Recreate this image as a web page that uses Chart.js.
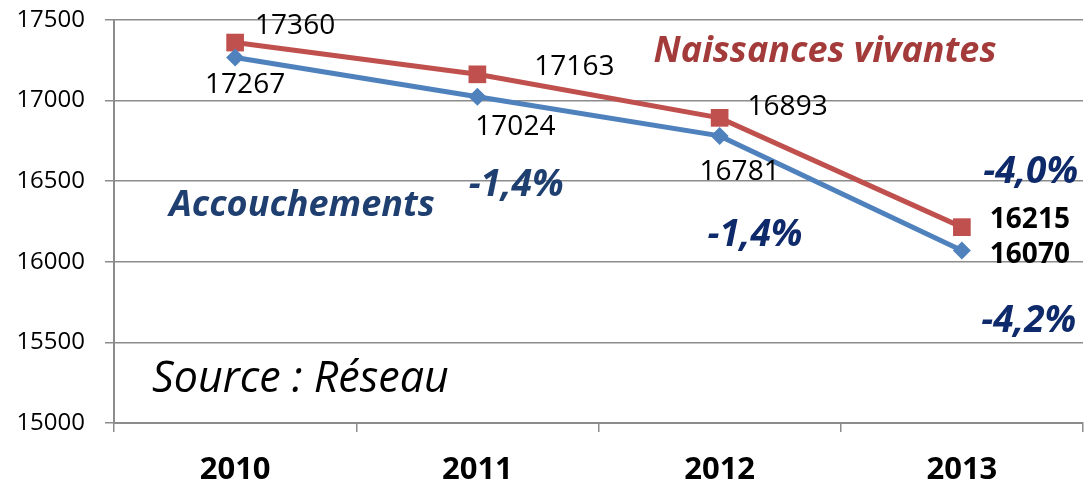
<!DOCTYPE html>
<html>
<head>
<meta charset="utf-8">
<script src="https://cdn.jsdelivr.net/npm/chart.js@4/dist/chart.umd.min.js"></script>
<style>
    html, body { margin: 0; padding: 0; background: #fff; }
    #wrap { width: 1084px; height: 489px; }
</style>
</head>
<body>
<div id="wrap"><canvas id="chart" width="1084" height="489"></canvas></div>
<script>
// Data
const years = ['2010', '2011', '2012', '2013'];
const accouchements = [17267, 17024, 16781, 16070];
const naissances = [17360, 17163, 16893, 16215];
const yTicks = [15000, 15500, 16000, 16500, 17000, 17500];

// Label offsets (px) from each point, per series
const blueLabelOffsets = [[10, 27], [38, 30], [20, 36], [68, 5]];
const redLabelOffsets = [[60, -17], [97, -7], [68, -11], [68, -7]];

// Free text placed through the scales (x = category index, y = value)
const notes = [
    { text: 'Naissances vivantes', x: 2.435, y: 17301, font: 'italic bold 36px "Open Sans"', color: '#A33B3A', align: 'center' },
    { text: 'Accouchements', x: 0.276, y: 16350, font: 'italic bold 36px "Open Sans"', color: '#1F3F70', align: 'center' },
    { text: '-1,4%', x: 1.16, y: 16476, font: 'italic bold 37px "Open Sans"', color: '#1F3F70', align: 'center' },
    { text: '-1,4%', x: 2.146, y: 16166, font: 'italic bold 37px "Open Sans"', color: '#0E2A6B', align: 'center' },
    { text: '-4,0%', x: 3.284, y: 16557, font: 'italic bold 37px "Open Sans"', color: '#0E2A6B', align: 'center' },
    { text: '-4,2%', x: 3.276, y: 15627, font: 'italic bold 37px "Open Sans"', color: '#0E2A6B', align: 'center' },
    { text: 'Source : Réseau', x: -0.343, y: 15267, font: 'italic 43px "Open Sans"', color: '#000000', align: 'left' }
];

// markers never touch the right edge here, don't let them shrink the plot
Chart.LineController.prototype.getMaxOverflow = () => 0;

const labelPlugin = {
    id: 'labels',
    afterDatasetsDraw(chart) {
        const ctx = chart.ctx;
        const xs = chart.scales.x;
        const ys = chart.scales.y;
        ctx.save();
        ctx.textBaseline = 'middle';

        // point values
        const sets = [
            { meta: chart.getDatasetMeta(0), vals: accouchements, off: blueLabelOffsets },
            { meta: chart.getDatasetMeta(1), vals: naissances, off: redLabelOffsets }
        ];
        sets.forEach(s => {
            s.meta.data.forEach((pt, i) => {
                const last = i === s.vals.length - 1;
                ctx.font = (last ? 'bold ' : '') + '28px "Open Sans"';
                ctx.fillStyle = '#000';
                ctx.textAlign = 'center';
                ctx.fillText(String(s.vals[i]), pt.x + s.off[i][0], pt.y + s.off[i][1]);
            });
        });

        // annotations
        const step = (xs.getPixelForValue(1) - xs.getPixelForValue(0));
        notes.forEach(n => {
            ctx.font = n.font;
            ctx.fillStyle = n.color;
            ctx.textAlign = n.align;
            const px = xs.getPixelForValue(0) + n.x * step;
            ctx.fillText(n.text, px, ys.getPixelForValue(n.y));
        });
        ctx.restore();
    }
};

new Chart(document.getElementById('chart').getContext('2d'), {
    type: 'line',
    data: {
        labels: years,
        datasets: [
            {
                label: 'Accouchements',
                data: accouchements,
                borderColor: '#4F81BD',
                backgroundColor: '#4F81BD',
                borderWidth: 5,
                pointStyle: 'rectRot',
                pointRadius: 9,
                pointBorderWidth: 0,
                tension: 0
            },
            {
                label: 'Naissances vivantes',
                data: naissances,
                borderColor: '#C0504D',
                backgroundColor: '#C0504D',
                borderWidth: 5,
                pointStyle: 'rect',
                pointRadius: 12.5,
                pointBorderWidth: 0,
                tension: 0
            }
        ]
    },
    options: {
        responsive: false,
        animation: false,
        events: [],
        layout: { padding: { top: 20, right: 1, left: 0, bottom: 0 } },
        plugins: {
            legend: { display: false },
            tooltip: { enabled: false }
        },
        scales: {
            x: {
                offset: true,
                afterFit(scale) {
                    scale.height = 66;
                    scale.paddingLeft = 0;
                    scale.paddingRight = 0;
                },
                grid: {
                    offset: true,
                    drawOnChartArea: false,
                    drawTicks: true,
                    tickLength: 9,
                    color: '#8C8C8C',
                    lineWidth: 1.5
                },
                border: { color: '#8C8C8C', width: 2 },
                ticks: {
                    color: '#000',
                    padding: 20,
                    font: { family: 'Open Sans', weight: 'bold', size: 31 }
                }
            },
            y: {
                min: 15000,
                max: 17500,
                afterFit(scale) {
                    scale.width = 114;
                    scale.paddingTop = 0;
                    scale.paddingBottom = 0;
                },
                afterBuildTicks(scale) { scale.ticks = yTicks.map(v => ({ value: v })); },
                grid: {
                    color: '#8C8C8C',
                    lineWidth: 1.5,
                    drawTicks: true,
                    tickLength: 9
                },
                border: { color: '#8C8C8C', width: 2 },
                ticks: {
                    color: '#000',
                    padding: 20,
                    font: { family: 'Open Sans', size: 24 },
                    callback: v => String(v)
                }
            }
        }
    },
    plugins: [labelPlugin]
});
</script>
</body>
</html>
